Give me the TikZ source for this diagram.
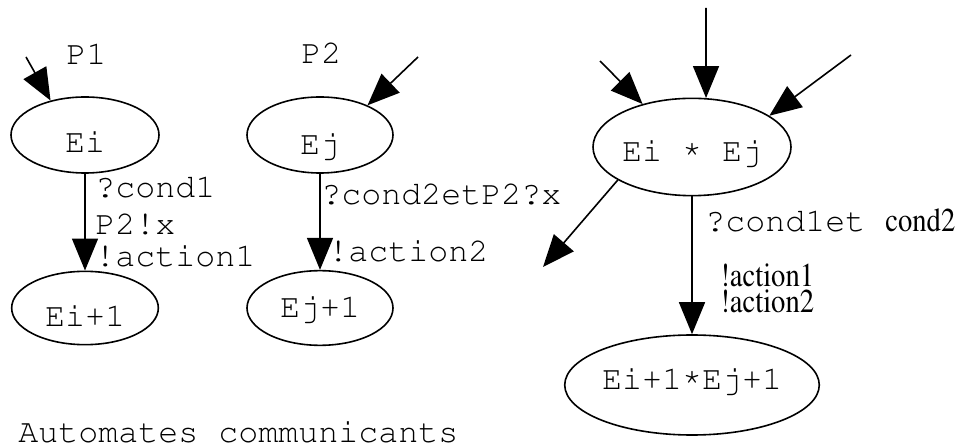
\documentclass[tikz,border=0pt]{standalone}
\usepackage[T1]{fontenc}
\usepackage{times}
\usepackage{courier}
\usetikzlibrary{arrows.meta,shapes.geometric}

% condensed serif text
\newcommand{\serif}[1]{{\fontsize{25}{30}\rmfamily\scalebox{0.86}[1]{#1}}}
% raised asterisk for the product states
\newcommand{\etoile}{\raisebox{3pt}{*}}

\begin{document}
\begin{tikzpicture}[
   x=0.75pt,y=-0.75pt,
   etat/.style={ellipse,draw,line width=1.2pt,inner sep=0pt,text depth=0pt,
      font=\fontsize{25}{30}\ttfamily},
   lbl/.style={anchor=base west,inner sep=0pt,font=\fontsize{25}{30}\ttfamily},
   fleche/.style={line width=1.2pt,-{Triangle[length=24pt,width=19.5pt]}}
]
   \useasboundingbox (0,0) rectangle (959,448);

   % automate P1
   \node[lbl] (p1) at (66,65) {P1};
   \node[etat,minimum width=111pt,minimum height=57pt,text height=27pt] (Ei) at (85,135) {Ei};
   \node[etat,minimum width=110pt,minimum height=55pt,text height=28.5pt] (Ei1) at (85,308) {Ei+1};
   \coordinate (in1) at (26,57);
   \draw[fleche] (in1) -- (Ei.135);
   \draw[fleche] (Ei) -- (Ei1);
   \node[lbl] (c1) at (95,198) {?cond1};
   \node[lbl] (x1) at (95,235) {P2!x};
   \node[lbl] (a1) at (95,267) {!action1};

   % automate P2
   \node[lbl] (p2) at (301,64) {P2};
   \node[etat,minimum width=109.5pt,minimum height=57pt,text height=30pt] (Ej) at (320,135) {Ej};
   \node[etat,minimum width=109.5pt,minimum height=56pt,text height=15pt] (Ej1) at (320,308) {Ej+1};
   \coordinate (in2) at (418,57);
   \draw[fleche] (in2) -- (Ej.32);
   \draw[fleche] (Ej) -- (Ej1);
   \node[lbl] (c2) at (321,205) {?cond2etP2?x};
   \node[lbl] (a2) at (328,262) {!action2};

   % produit synchronise
   \node[etat,minimum width=148.5pt,minimum height=73pt,text height=22.5pt] (EiEj) at (692,147) {Ei \etoile{} Ej};
   \node[etat,minimum width=148.5pt,minimum height=75pt,text height=7.5pt] (Ei1Ej1) at (692,385) {Ei+1\etoile{}Ej+1};
   \coordinate (ina) at (600,61);
   \coordinate (inb) at (706,8);
   \coordinate (inc) at (851,55);
   \coordinate (out) at (543,267);
   \draw[fleche] (ina) -- (EiEj.139);
   \draw[fleche] (inb) -- (EiEj.74);
   \draw[fleche] (inc) -- (EiEj.22);
   \draw[fleche] (EiEj.204) -- (out);
   \draw[fleche] (EiEj) -- (Ei1Ej1);
   \node[lbl] (c12) at (705,232) {?cond1et \serif{cond2}};
   \node[lbl] (a12) at (720,287) {\serif{!action1}};
   \node[lbl] (a22) at (720,313) {\serif{!action2}};

   \node[lbl] (titre) at (18,442) {Automates communicants};
\end{tikzpicture}
\end{document}
